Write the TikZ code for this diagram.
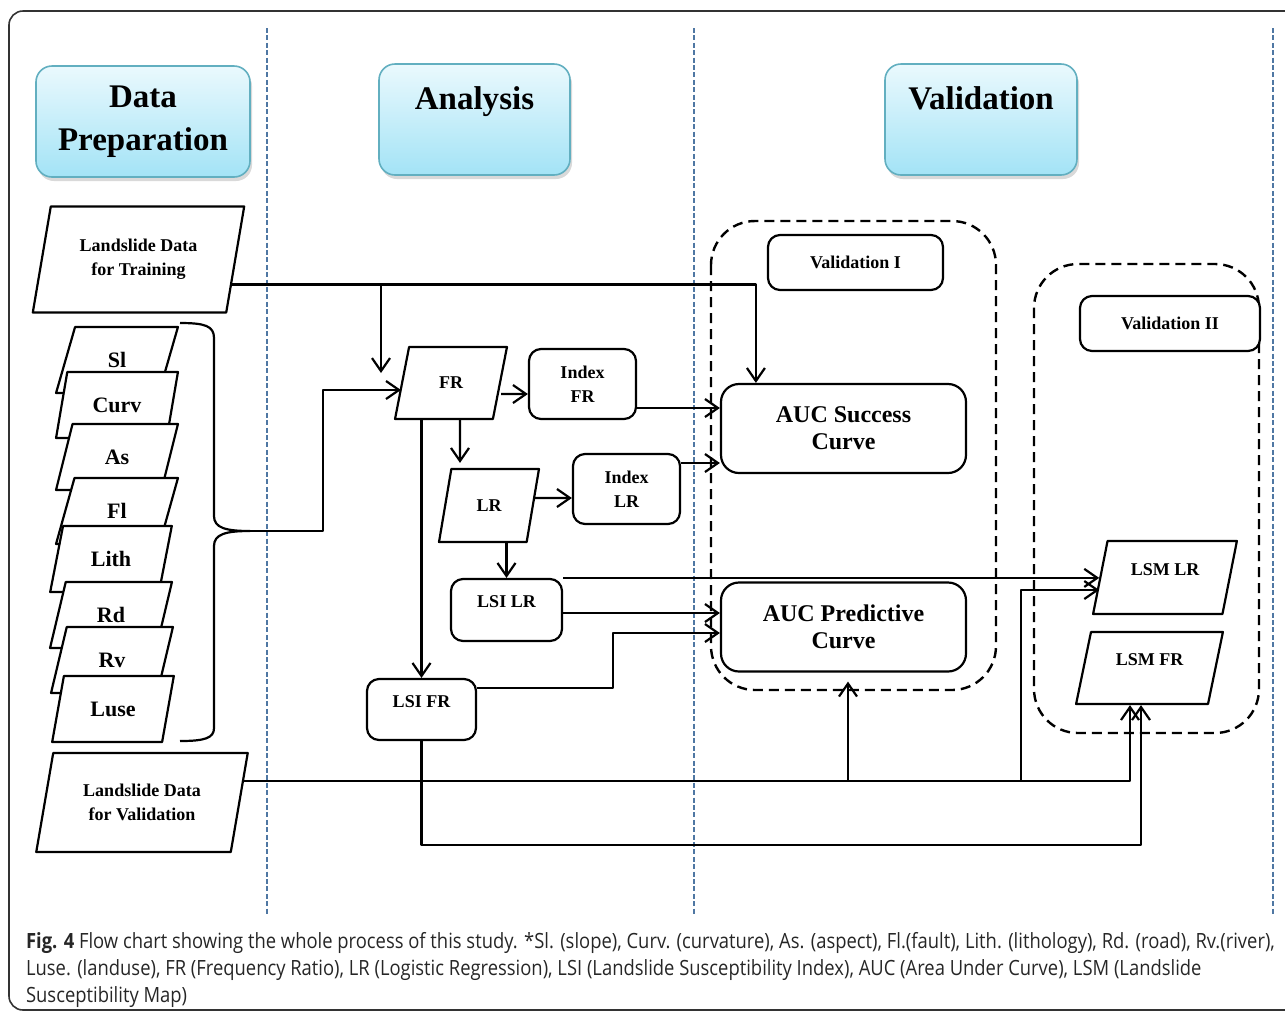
\documentclass[tikz,border=0pt]{standalone}
\usepackage{fontspec}
\setmainfont{Liberation Serif}
\newfontfamily\capfont{Open Sans}
\usetikzlibrary{shapes.geometric,arrows.meta,calc,shadows}
\definecolor{headtop}{HTML}{EAF9FD}
\definecolor{headbot}{HTML}{A3E3F6}
\definecolor{headline}{HTML}{62AFC0}
\definecolor{sepblue}{HTML}{4F77A3}
\begin{document}
\begin{tikzpicture}[x=0.5pt,y=-0.5pt,>={Straight Barb[length=6.5pt,width=9pt]},line join=round,line width=1.1pt]
\tikzset{head/.style={rectangle,rounded corners=8pt,draw=headline,line width=0.8pt,top color=headtop,bottom color=headbot,
		drop shadow={shadow xshift=1pt,shadow yshift=-2pt,opacity=0.3},minimum height=55.5pt,align=center,
		font=\fontsize{16.5}{21.5}\selectfont\bfseries},
	para/.style={trapezium,trapezium left angle=76,trapezium right angle=104,trapezium stretches=true,draw,fill=white,
		align=center,font=\fontsize{9}{12}\selectfont\bfseries},
	var/.style={para,minimum width=61pt,minimum height=33pt,font=\fontsize{11}{13}\selectfont\bfseries},
	box/.style={rectangle,rounded corners=6pt,draw,fill=white,align=center,font=\fontsize{9}{12}\selectfont\bfseries},
	auc/.style={box,rounded corners=9pt,minimum width=122.5pt,minimum height=44.5pt,font=\fontsize{12}{13.5}\selectfont\bfseries},
	zone/.style={line width=1.2pt,dash pattern=on 5pt off 3pt,rounded corners=22pt},
	sep/.style={sepblue,line width=0.7pt,dash pattern=on 2.5pt off 1.2pt}}
\useasboundingbox (0,0) rectangle (1285,1014);
\draw[black!80,line width=0.8pt,rounded corners=7pt] (9,11) rectangle (1330,1010);
\foreach \sx in {267,694,1273}
	\draw[sep] (\sx,28) -- (\sx,915);
% column heads
\node[head,minimum width=107pt] (hprep) at (143,121.5) {Data\\Preparation};
\node[head,minimum width=95.5pt] (hana) at (474.5,119.5) {Analysis\\~};
\node[head,minimum width=96pt] (hval) at (981,119.5) {Validation\\~};
\draw[zone] (711,221) rectangle (996,690);
\draw[zone] (1034,264) rectangle (1259,733);
% data preparation
\node[para,minimum width=106.5pt,minimum height=53pt] (train) at (138.5,259.5) {Landslide Data\\for Training};
\node[para,minimum width=106pt,minimum height=49.5pt] (vdata) at (142,802.5) {Landslide Data\\for Validation};
\foreach \v/\vx/\vy in {Sl/117/360,Curv/117/405,As/117/457,Fl/117/511,Lith/111/559,Rd/111/615,Rv/112/660,Luse/113/709}
	\node[var] (v\v) at (\vx,\vy) {\v};
\draw (180,323) .. controls (205,323) and (214,326) .. (214,338) -- (214,516)
	.. controls (214,528) and (226,531) .. (250,531) .. controls (226,531) and (214,534) .. (214,546)
	-- (214,728) .. controls (214,738) and (205,741) .. (180,741);
\coordinate (btip) at (250,531);
% analysis
\node[para,minimum width=56pt,minimum height=36pt] (fr) at (451,383) {FR};
\node[box,minimum width=53.5pt,minimum height=35pt] (ifr) at (582.5,384) {Index\\FR};
\node[para,minimum width=50pt,minimum height=36.5pt] (lr) at (489,505.5) {LR};
\node[box,minimum width=53.5pt,minimum height=35pt] (ilr) at (626.5,489) {Index\\LR};
\node[box,minimum width=55.5pt,minimum height=31pt] (lsilr) at (506.5,610) {LSI LR\\[-4pt]~};
\node[box,minimum width=54.5pt,minimum height=30.5pt] (lsifr) at (421.5,709.5) {LSI FR\\[-4pt]~};
% validation
\node[box,minimum width=87.5pt,minimum height=27.5pt] (val1) at (855.5,262.5) {Validation I};
\node[box,minimum width=90pt,minimum height=27.5pt] (val2) at (1170,323.5) {Validation II};
\node[auc] (aucs) at (843.5,428.5) {AUC Success\\Curve};
\node[auc] (aucp) at (843.5,627) {AUC Predictive\\Curve};
\node[para,minimum width=72pt,minimum height=36.5pt] (lsmlr) at (1165,577.5) {LSM LR\\[-4pt]~};
\node[para,minimum width=73.5pt,minimum height=36pt] (lsmfr) at (1149.5,668) {LSM FR\\[-4pt]~};
% connectors
\coordinate (frin) at (381,373);
\draw[->] (train.-15) -| ($(aucs.north west)+(36,0)$);
\draw[->] (train.-15 -| frin) -- (frin);
\draw[->] (btip) -- ++(73,0) |- (fr.west |- 0,390);
\draw[->] ($(fr.east)+(0,11)$) -- ($(ifr.west)+(0,10)$);
\draw[->] ($(ifr.east)+(0,24)$) -- ($(aucs.west)+(0,-20.5)$);
\draw[->] ($(fr.south)+(9,0)$) -- ($(lr.north)+(-29,-5)$);
\draw[->] ($(lr.east)+(0,-7.5)$) -- ($(ilr.west)+(0,9)$);
\draw[->] ($(ilr.east)+(0,-26)$) -- ($(aucs.west)+(0,34.5)$);
\draw[->] (fr.south -| lsifr.north) -- (lsifr.north);
\draw[->] (lr.south -| lsilr.north) -- (lsilr.north);
\draw[->] (lsilr.north east) -- (lsilr.north east -| lsmlr.west);
\draw[->] ($(lsilr.east)+(0,3)$) -- ($(aucp.west)+(0,-14)$);
\draw[->] ($(lsifr.east)+(0,-21.5)$) -- ++(136,0) |- ($(aucp.west)+(0,6)$);
\draw[->] (lsifr.south) -- (lsifr.south |- 0,845) -| ($(lsmfr.south)+(-8.5,0)$);
\draw[->] (vdata.12) -| ($(lsmfr.south)+(-19.5,0)$);
\draw[->] ($(aucp.south |- vdata.12)+(4.5,0)$) -- ($(aucp.south)+(4.5,9)$);
\draw[->] (vdata.12 -| 1021,0) |- ($(lsmlr.west)+(0,12.5)$);
% caption
\node[anchor=base west,inner sep=0pt,align=left,text=black!85,font=\capfont\fontsize{10.5}{13.5}\selectfont] (cap) at (25,1002)
	{\scalebox{0.876}[1]{\textbf{Fig. 4} Flow chart showing the whole process of this study. *Sl. (slope), Curv. (curvature), As. (aspect), Fl.(fault), Lith. (lithology), Rd. (road), Rv.(river),}\\
	\scalebox{0.876}[1]{Luse. (landuse), FR (Frequency Ratio), LR (Logistic Regression), LSI (Landslide Susceptibility Index), AUC (Area Under Curve), LSM (Landslide}\\
	\scalebox{0.876}[1]{Susceptibility Map)}};
\end{tikzpicture}
\end{document}
